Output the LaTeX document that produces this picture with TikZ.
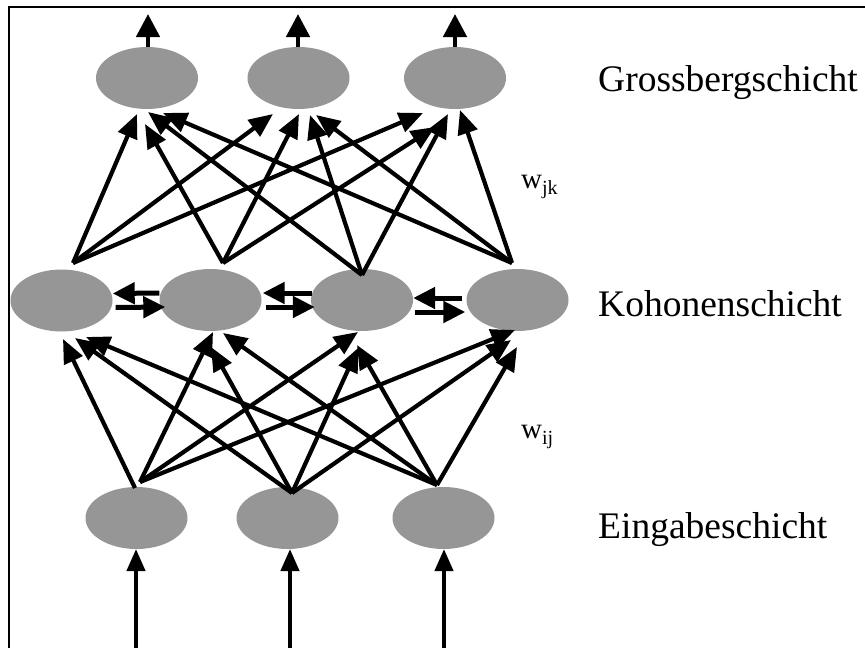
\documentclass[tikz,border=0pt]{standalone}
\usepackage{fontspec}
\setmainfont{Liberation Serif}
\usetikzlibrary{arrows.meta,shapes.geometric,calc}
\definecolor{nodegray}{RGB}{150,150,150}
\begin{document}
\begin{tikzpicture}[x=1pt,y=-1pt,
  neuron/.style={ellipse,fill=nodegray,draw=none,minimum width=102pt,minimum height=62pt,inner sep=0pt},
  conn/.style={line width=4.2pt,-{Triangle[length=24pt,width=20pt]}},
  lat/.style={line width=5pt,-{Triangle[length=22pt,width=21pt]}},
  io/.style={line width=4.6pt,-{Triangle[length=23pt,width=23pt]}},
  inp/.style={line width=4.2pt,-{Triangle[length=22pt,width=18pt]}},
  layerlabel/.style={anchor=base west,inner sep=0pt,font=\fontsize{37.5}{40}\selectfont},
  wlabel/.style={anchor=base west,inner sep=0pt,font=\fontsize{29}{30}\selectfont},
  frame/.style={line width=2.4pt}
]
\useasboundingbox (0,0) rectangle (865,648);
% frame
\coordinate (fbl) at (9,648);
\coordinate (ftl) at (9,7);
\coordinate (ftr) at (865,7);
\draw[frame] (fbl) -- (ftl) -- (ftr);

% Grossberg layer
\node[neuron] (g1) at (147,78) {};
\node[neuron] (g2) at (298.5,78) {};
\node[neuron] (g3) at (455,78) {};
% Kohonen layer
\node[neuron] (k1) at (61.5,300.5) {};
\node[neuron] (k2) at (210.5,300) {};
\node[neuron] (k3) at (362,300) {};
\node[neuron] (k4) at (517.5,300) {};
% input layer
\node[neuron] (i1) at (136.5,518) {};
\node[neuron] (i2) at (287.5,518) {};
\node[neuron] (i3) at (443.5,518) {};

% outputs
\coordinate (o1s) at (148,47); \coordinate (o1e) at (148,14);
\coordinate (o2s) at (298,47); \coordinate (o2e) at (298,14);
\coordinate (o3s) at (455,47); \coordinate (o3e) at (455,14);
\draw[io] (o1s) -- (o1e);
\draw[io] (o2s) -- (o2e);
\draw[io] (o3s) -- (o3e);

% inputs
\coordinate (n1) at (136,648); \coordinate (n1e) at (136,549);
\coordinate (n2) at (290,648); \coordinate (n2e) at (290,549);
\coordinate (n3) at (444,648); \coordinate (n3e) at (444,549);
\draw[inp] (n1) -- (n1e);
\draw[inp] (n2) -- (n2e);
\draw[inp] (n3) -- (n3e);

% Kohonen apexes
\coordinate (k1t) at (73,263);
\coordinate (k2t) at (223,263);
\coordinate (k3t) at (362,275);
\coordinate (k4t) at (512,263);
% Grossberg arrow tips
\coordinate (g1a) at (137,114); \coordinate (g1b) at (145,124);
\coordinate (g1c) at (148,112); \coordinate (g1d) at (163,113);
\coordinate (g2a) at (273,114); \coordinate (g2b) at (299,114);
\coordinate (g2c) at (310,115); \coordinate (g2d) at (316,115);
\coordinate (g3a) at (423,113); \coordinate (g3b) at (435,127);
\coordinate (g3c) at (448,114); \coordinate (g3d) at (460,110);

\draw[conn] (k1t) -- (g1a);
\draw[conn] (k2t) -- (g1b);
\draw[conn] (k3t) -- (g1c);
\draw[conn] (k4t) -- (g1d);
\draw[conn] (k1t) -- (g2a);
\draw[conn] (k2t) -- (g2b);
\draw[conn] (k3t) -- (g2c);
\draw[conn] (k4t) -- (g2d);
\draw[conn] (k1t) -- (g3a);
\draw[conn] (k2t) -- (g3b);
\draw[conn] (k3t) -- (g3c);
\draw[conn] (k4t) -- (g3d);

% input apexes
\coordinate (i1a) at (135,488);
\coordinate (i1b) at (140,482);
\coordinate (i2t) at (292,493);
\coordinate (i3t) at (437,485);
% Kohonen arrow tips
\coordinate (k1a) at (63,339); \coordinate (k1b) at (75,338); \coordinate (k1c) at (86,337);
\coordinate (k2a) at (213,332); \coordinate (k2b) at (211,347); \coordinate (k2c) at (223,333);
\coordinate (k3a) at (358,332); \coordinate (k3b) at (358,348); \coordinate (k3c) at (357,345);
\coordinate (k4a) at (515,330); \coordinate (k4b) at (511,340); \coordinate (k4c) at (517,347);

\draw[conn] (i1a) -- (k1a);
\draw[conn] (i2t) -- (k1b);
\draw[conn] (i3t) -- (k1c);
\draw[conn] (i1b) -- (k2a);
\draw[conn] (i2t) -- (k2b);
\draw[conn] (i3t) -- (k2c);
\draw[conn] (i1b) -- (k3a);
\draw[conn] (i2t) -- (k3b);
\draw[conn] (i3t) -- (k3c);
\draw[conn] (i1b) -- (k4a);
\draw[conn] (i2t) -- (k4b);
\draw[conn] (i3t) -- (k4c);

% lateral connections
\draw[lat] ($(k2.west)+(0,-7)$) -- ($(k1.east)+(0,-7)$);
\draw[lat] ($(k1.east)+(3,7)$) -- ($(k2.west)+(6,7)$);
\draw[lat] ($(k3.west)+(1,-7)$) -- ($(k2.east)+(1,-7)$);
\draw[lat] ($(k2.east)+(4,7)$) -- ($(k3.west)+(4,7)$);
\draw[lat] ($(k4.west)+(-4,-2)$) -- ($(k3.east)+(0,-2)$);
\draw[lat] ($(k3.east)+(2,12)$) -- ($(k4.west)+(-1,12)$);

% labels
\node[layerlabel] (tg) at (598,91) {Grossbergschicht};
\node[layerlabel] (tk) at (598,316) {Kohonenschicht};
\node[layerlabel] (te) at (598,538) {Eingabeschicht};
\node[wlabel] (wjk) at (521,188) {w\raisebox{-6pt}{\fontsize{20}{21}\selectfont jk}};
\node[wlabel] (wij) at (521,438) {w\raisebox{-6pt}{\fontsize{20}{21}\selectfont ij}};
\end{tikzpicture}
\end{document}
